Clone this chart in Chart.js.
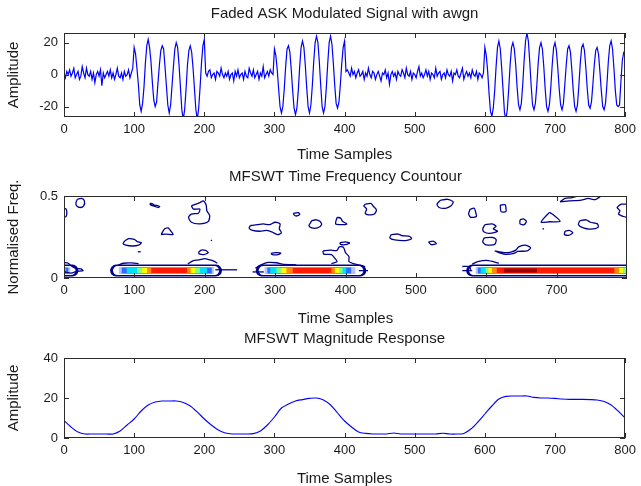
<!DOCTYPE html>
<html>
<head>
<meta charset="utf-8">
<script src="https://cdn.jsdelivr.net/npm/chart.js@4.4.1/dist/chart.umd.min.js"></script>
<style>
  html, body { margin: 0; padding: 0; background: #fff; }
  #wrap { position: relative; width: 641px; height: 486px; overflow: hidden; }
  canvas { position: absolute; left: 0; }
</style>
</head>
<body>
<div id="wrap">
  <canvas id="sig" width="641" height="165" style="top:0px"></canvas>
  <canvas id="tfc" width="641" height="160" style="top:165px"></canvas>
  <canvas id="mag" width="641" height="161" style="top:325px"></canvas>
</div>
<script>
// ---- signal (one value every 2 samples) ----
const SIG_STEP = 2;
const noiseA = [
  1, -2, 2, 0, 3, -1, 1, 4, -2, 0,
  2, -3, -1, 5, 1, -2, 4, 0, -1, 2,
  -3, 1, -5, 0, 2, -1, 3, -7, 1, -2,
  0, 2, -1, 3, -2, 1, -3, 0, 4, -1,
  -2, 1, -3, 2, -1, 0, 3, -2, 1, 4
];
const burst1 = [
  17, 13, 4, -6, -19, -23, -18, -8, 7, 18,
  22, 17, 8, -5, -16, -20, -17, -5, 6, 15,
  18, 16, 5, -7, -19, -24, -19, -7, 5, 16,
  20, 17, 6, -8, -22, -28, -22, -9, 6, 15,
  18, 14, 4, -9, -22, -28, -21, -8, 7, 18,
  22, 1
];
const noiseB = [
  -1, 2, 3, -2, 0, 1, -3, 2, 1, -1,
  4, 0, -2, 1, -1, 2, -3, 0, 1, -4,
  2, -1, 3, -2, 0, 1, -3, 2, -1, -2,
  4, 1, -1, 3, -2, 0, 2, -3, 1, -1,
  5, -2, 0, 2, -1, 3, 1, 0
];
const burst2 = [
  16, 12, 3, -9, -20, -24, -20, -9, 5, 16,
  18, 14, 3, -10, -21, -25, -21, -10, 5, 17,
  21, 17, 6, -8, -20, -24, -19, -7, 8, 20,
  24, 20, 8, -7, -20, -24, -20, -8, 7, 20,
  24, 19, 7, -7, -18, -21, -17, -6, 7, 17,
  21, 2
];
const noiseC = [
  3, 1, -1, 4, 0, 2, -2, 1, 3, -1,
  0, 2, -3, 1, -1, 4, 0, -2, 2, 1,
  -3, 0, 2, -1, -4, 1, 0, 3, -2, 1,
  -6, 0, 2, -1, 1, -3, 2, 0, -1, 3,
  1, -2, 4, 0, -1, 2, -3, 1, 0, -2,
  2, 5, -1, 1, -2, 0, 3, -1, 2, -3,
  1, 0, -2, 4, -1, 1, 2, -3, 0, 1,
  -2, 3, 0, -1, 2, -4, 1, 0, 3, -1,
  -2, 1, 4, -3, 0, 2, -1, 1, -2, 3,
  0, -1, 2, -3, 1, 0, -2, 1
];
const burst3 = [
  17, 12, 2, -12, -23, -26, -21, -10, 5, 17,
  21, 16, 4, -10, -24, -28, -22, -9, 6, 17,
  20, 16, 6, -8, -19, -22, -18, -6, 9, 21,
  26, 21, 8, -7, -19, -22, -18, -7, 7, 17,
  20, 16, 5, -9, -20, -23, -19, -8, 6, 17,
  20, 15, 4, -9, -19, -22, -18, -6, 6, 16,
  18, 14, 3, -10, -20, -23, -19, -7, 7, 17,
  19, 15, 4, -9, -19, -21, -17, -6, 6, 15,
  17, 13, 2, -10, -20, -22, -18, -6, 8, 18,
  21, 16, 4, -10, -19, -20, -19, -4, 9, 14,
  15
];
const signal = [].concat(noiseA, burst1, noiseB, burst2, noiseC, burst3);

// ---- MFSWT magnitude (every 10 samples) ----
const MAG_STEP = 10;
const magnitude = [
  8.7, 5.5, 3, 2, 2, 2, 2, 2, 3.5, 6.5,
  9.5, 13.5, 16.5, 18, 18.5, 18.5, 18.5, 17.8, 16, 13,
  9.5, 6.5, 4, 2.5, 2, 2, 2, 2.2, 3.5, 6.5,
  10.5, 15, 17, 18.5, 19.2, 19.8, 20, 19, 16.5, 12.5,
  8.5, 5.5, 3, 2.3, 2, 2, 2, 2.5, 2, 2,
  2, 2, 2, 2, 2.4, 2, 2, 2.3, 4.5, 8,
  12, 16, 19.5, 20.8, 21, 21, 21, 20.3, 20, 20,
  19.8, 19.5, 19.3, 19.3, 19.3, 19.2, 19, 18.3, 16.5, 13.5,
  10
];

// ---- time-frequency contour ----
const bandFreq = 0.045;
// [start, end] sample spans of each contour level along the carrier band
const bandSpans = [
  [[0, 12], [74, 216], [281, 421], [580, 800]],
  [[0, 10], [76, 214], [283, 419], [582, 800]],
  [[0, 9], [78, 213], [285, 414], [585, 800]],
  [[0, 6], [82, 210], [289, 408], [588, 800]],
  [[0, 3], [89, 203], [293, 401], [592, 800]],
  [[104, 193], [302, 396], [599, 800]],
  [[111, 186], [309, 391], [603, 794]],
  [[118, 180], [316, 385], [608, 789]],
  [[124, 175], [325, 380], [615, 782]],
  [[625, 672]]
];
const bandColors = ['#00008f', '#ffffff', '#b4c4ff', '#2f6bff', '#00e0ff', '#7dff82', '#ffff00', '#ff8c00', '#ff1a00', '#9a0000'];
const bandWidths = [12, 9, 7, 6, 5, 5, 5, 5, 5, 4];

const contourLoops = [
  [[0, 0.425], [3, 0.42], [4, 0.40], [3, 0.375], [0, 0.37]],
  [[19, 0.48], [25, 0.485], [29, 0.47], [28, 0.44], [23, 0.43], [18, 0.44], [17, 0.46], [19, 0.48]],
  [[122, 0.455], [126, 0.452], [128, 0.445], [133, 0.442], [136, 0.436], [134, 0.43], [128, 0.438], [123, 0.446], [122, 0.455]],
  [[181, 0.44], [193, 0.46], [198, 0.47], [202, 0.445], [203, 0.41], [207, 0.38], [205, 0.345], [193, 0.33], [181, 0.34], [177, 0.37], [181, 0.39], [191, 0.395], [193, 0.42], [184, 0.42], [181, 0.44]],
  [[138, 0.265], [145, 0.268], [155, 0.265], [152, 0.285], [148, 0.305], [143, 0.30], [138, 0.265]],
  [[86, 0.225], [92, 0.24], [100, 0.235], [104, 0.222], [110, 0.215], [106, 0.20], [97, 0.195], [88, 0.20], [84, 0.21], [86, 0.225]],
  [[105, 0.16], [109, 0.16]],
  [[209, 0.232], [210, 0.226]],
  [[191, 0.155], [195, 0.17], [201, 0.168], [205, 0.155], [199, 0.143], [192, 0.147], [191, 0.155]],
  [[176, 0.085], [183, 0.105], [192, 0.11], [200, 0.118], [206, 0.112], [212, 0.105], [218, 0.09]],
  [[76, 0.075], [84, 0.09], [96, 0.092], [106, 0.088]],
  [[0, 0.095], [6, 0.09], [10, 0.075], [16, 0.06], [24, 0.055], [27, 0.045], [18, 0.04], [10, 0.03], [3, 0.035], [0, 0.04]],
  [[215, 0.05], [246, 0.05]],
  [[265, 0.32], [275, 0.325], [283, 0.33], [292, 0.325], [300, 0.34], [307, 0.33], [306, 0.3], [309, 0.275], [303, 0.265], [296, 0.28], [288, 0.29], [278, 0.285], [268, 0.29], [263, 0.305], [265, 0.32]],
  [[326, 0.395], [333, 0.398], [335, 0.388], [330, 0.378], [327, 0.385], [326, 0.395]],
  [[352, 0.35], [358, 0.355], [364, 0.345], [366, 0.325], [360, 0.305], [352, 0.305], [348, 0.32], [350, 0.335], [352, 0.35]],
  [[388, 0.37], [393, 0.365], [396, 0.345], [402, 0.33], [394, 0.325], [386, 0.33], [388, 0.37]],
  [[428, 0.45], [436, 0.455], [440, 0.435], [444, 0.415], [441, 0.39], [433, 0.385], [428, 0.395], [430, 0.42], [426, 0.44], [428, 0.45]],
  [[294, 0.15], [300, 0.155], [308, 0.152], [304, 0.142], [296, 0.143], [294, 0.15]],
  [[392, 0.215], [400, 0.22], [406, 0.213], [400, 0.203], [393, 0.205], [392, 0.215]],
  [[368, 0.165], [378, 0.17], [388, 0.168], [391, 0.19], [397, 0.188], [400, 0.155], [405, 0.13], [405, 0.10], [414, 0.085], [428, 0.07]],
  [[368, 0.165], [369, 0.145], [380, 0.143], [385, 0.12], [388, 0.10], [380, 0.088]],
  [[272, 0.06], [280, 0.08], [290, 0.095], [302, 0.093], [310, 0.085], [330, 0.08]],
  [[268, 0.037], [284, 0.037]],
  [[419, 0.045], [432, 0.045]],
  [[465, 0.265], [475, 0.268], [480, 0.258], [490, 0.255], [494, 0.24], [485, 0.228], [470, 0.232], [463, 0.245], [465, 0.265]],
  [[518, 0.22], [525, 0.224], [529, 0.21], [522, 0.203], [518, 0.22]],
  [[535, 0.475], [545, 0.48], [553, 0.465], [550, 0.44], [542, 0.425], [533, 0.43], [530, 0.45], [535, 0.475]],
  [[577, 0.42], [583, 0.425], [585, 0.40], [586, 0.375], [578, 0.37], [575, 0.39], [577, 0.42]],
  [[598, 0.325], [608, 0.33], [614, 0.315], [610, 0.30], [616, 0.285], [605, 0.272], [597, 0.28], [595, 0.30], [598, 0.325]],
  [[597, 0.245], [608, 0.248], [614, 0.235], [612, 0.205], [600, 0.202], [595, 0.22], [597, 0.245]],
  [[620, 0.445], [627, 0.447], [628, 0.425], [628, 0.405], [621, 0.405], [620, 0.445]],
  [[612, 0.165], [625, 0.155], [635, 0.158], [642, 0.17], [646, 0.19], [655, 0.2], [663, 0.185], [658, 0.165], [645, 0.162], [638, 0.148], [625, 0.145], [612, 0.165]],
  [[648, 0.355], [653, 0.36], [657, 0.345], [654, 0.325], [648, 0.33], [648, 0.355]],
  [[690, 0.40], [697, 0.38], [705, 0.345], [690, 0.343], [678, 0.34], [683, 0.37], [690, 0.40]],
  [[680, 0.302], [682, 0.298]],
  [[712, 0.285], [718, 0.29], [723, 0.275], [717, 0.26], [711, 0.265], [712, 0.285]],
  [[733, 0.35], [742, 0.355], [748, 0.34], [758, 0.33], [759, 0.31], [748, 0.298], [738, 0.305], [731, 0.325], [733, 0.35]],
  [[705, 0.465], [712, 0.485], [722, 0.49], [731, 0.5]],
  [[705, 0.465], [718, 0.47], [735, 0.475], [745, 0.485], [755, 0.478], [763, 0.5]],
  [[800, 0.45], [792, 0.45], [786, 0.43], [790, 0.41], [788, 0.39], [795, 0.375], [800, 0.37]],
  [[580, 0.085], [588, 0.1], [600, 0.108], [610, 0.1], [618, 0.09]],
  [[566, 0.07], [576, 0.07], [578, 0.05]],
  [[566, 0.045], [580, 0.045]]
];

const FONT = "'Liberation Sans', Arial, Helvetica, sans-serif";
const INK = '#1a1a1a';

// MATLAB-like box with inward ticks + title over the plot area
const matlabAxes = {
  id: 'matlabAxes',
  afterDraw(chart, args, opts) {
    const { ctx, chartArea: a, scales: { x, y } } = chart;
    ctx.save();
    ctx.strokeStyle = '#2b2b2b';
    ctx.lineWidth = 1;
    ctx.beginPath();
    x.ticks.forEach(t => {
      const px = Math.round(x.getPixelForValue(t.value)) + 0.5;
      ctx.moveTo(px, a.bottom); ctx.lineTo(px, a.bottom - 5);
      ctx.moveTo(px, a.top); ctx.lineTo(px, a.top + 5);
    });
    y.ticks.forEach(t => {
      const py = Math.round(y.getPixelForValue(t.value)) + 0.5;
      ctx.moveTo(a.left, py); ctx.lineTo(a.left + 5, py);
      ctx.moveTo(a.right, py); ctx.lineTo(a.right - 5, py);
    });
    ctx.stroke();
    ctx.strokeRect(Math.round(a.left) + 0.5, Math.round(a.top) + 0.5, Math.round(a.width) - 1, Math.round(a.height) - 1);
    if (opts.title) {
      ctx.fillStyle = INK;
      ctx.font = '15px ' + FONT;
      ctx.textAlign = 'center';
      ctx.textBaseline = 'middle';
      ctx.fillText(opts.title, (a.left + a.right) / 2, a.top - 19);
    }
    ctx.restore();
  }
};

function axesOptions(cfg) {
  return {
    responsive: false,
    animation: false,
    events: [],
    layout: { padding: { top: cfg.padTop, right: 14, left: 0, bottom: 0 } },
    plugins: {
      legend: { display: false },
      tooltip: { enabled: false },
      matlabAxes: { title: cfg.title }
    },
    scales: {
      x: {
        type: 'linear', min: 0, max: 800,
        grid: { display: false, drawTicks: false },
        border: { display: false },
        ticks: { stepSize: 100, autoSkip: false, maxRotation: 0, padding: 5, color: INK, font: { family: FONT, size: 13 } },
        title: { display: true, text: 'Time Samples', color: INK, font: { family: FONT, size: 15 }, padding: { top: 0, bottom: cfg.xTitlePad } },
        afterBuildTicks: s => { s.ticks = s.ticks.filter(t => t.value <= cfg.xLastTick); },
        afterFit: s => { s.height = cfg.xAxisH; }
      },
      y: {
        type: 'linear', min: cfg.yMin, max: cfg.yMax,
        grid: { display: false, drawTicks: false },
        border: { display: false },
        ticks: { stepSize: cfg.yStep, includeBounds: false, autoSkip: false, padding: 6, color: INK, font: { family: FONT, size: 13 } },
        title: { display: true, text: cfg.yTitle, color: INK, font: { family: FONT, size: 15 }, padding: { top: 5, bottom: 0 } },
        afterFit: s => { s.width = 64; }
      }
    }
  };
}

// top: faded ASK signal
new Chart(document.getElementById('sig'), {
  type: 'line',
  data: {
    datasets: [{
      data: signal.map((v, i) => ({ x: i * SIG_STEP, y: v })),
      borderColor: '#0000ff', borderWidth: 1.2, pointRadius: 0, tension: 0
    }]
  },
  options: axesOptions({ padTop: 33, xAxisH: 48, xTitlePad: 1, xLastTick: 800, yMin: -26.5, yMax: 26, yStep: 20, yTitle: 'Amplitude', title: 'Faded ASK Modulated Signal with awgn' }),
  plugins: [matlabAxes]
});

// middle: contour
const tfDatasets = [];
bandSpans.forEach((spans, lvl) => {
  spans.forEach(([s, e]) => {
    tfDatasets.push({
      data: [{ x: s, y: bandFreq }, { x: e, y: bandFreq }],
      borderColor: bandColors[lvl], borderWidth: bandWidths[lvl],
      borderCapStyle: lvl < 2 ? 'round' : 'butt',
      pointRadius: 0, order: 50 - lvl
    });
  });
});
contourLoops.forEach(loop => {
  tfDatasets.push({
    data: loop.map(([t, f]) => ({ x: t, y: f })),
    borderColor: '#00008f', borderWidth: 1.3, pointRadius: 0, tension: 0.25, order: 0
  });
});
new Chart(document.getElementById('tfc'), {
  type: 'line',
  data: { datasets: tfDatasets },
  options: axesOptions({ padTop: 31, xAxisH: 47, xTitlePad: -3, xLastTick: 700, yMin: 0, yMax: 0.5, yStep: 0.5, yTitle: 'Normalised Freq.', title: 'MFSWT Time Frequency Countour' }),
  plugins: [matlabAxes]
});

// bottom: magnitude response
new Chart(document.getElementById('mag'), {
  type: 'line',
  data: {
    datasets: [{
      data: magnitude.map((v, i) => ({ x: i * MAG_STEP, y: v })),
      borderColor: '#0000ff', borderWidth: 1.1, pointRadius: 0, tension: 0.3
    }]
  },
  options: axesOptions({ padTop: 33, xAxisH: 48, xTitlePad: -2, xLastTick: 800, yMin: 0, yMax: 40, yStep: 20, yTitle: 'Amplitude', title: 'MFSWT Magnitude Response' }),
  plugins: [matlabAxes]
});
</script>
</body>
</html>
